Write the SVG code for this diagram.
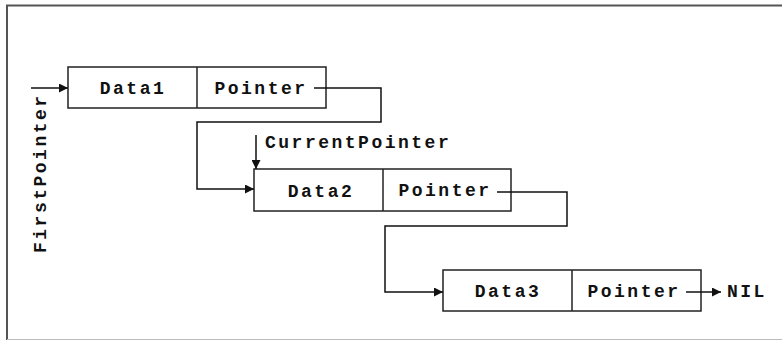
<svg xmlns="http://www.w3.org/2000/svg" width="782" height="340" viewBox="0 0 782 340">
<style>
.box{fill:#fff;stroke:#222;stroke-width:1.5}
.lbl{font-family:"Liberation Mono","Courier New",monospace;font-weight:bold;font-size:18px;letter-spacing:2.5px;fill:#111}
.c{text-anchor:middle}
.wire{fill:none;stroke:#111;stroke-width:1.5}
</style>
<defs>
<marker id="ah" viewBox="0 0 10 10" refX="10" refY="5" markerWidth="9" markerHeight="9" markerUnits="userSpaceOnUse" orient="auto">
<path d="M0,0 L10,5 L0,10 z" fill="#111"/>
</marker>
</defs>
<rect x="0" y="0" width="782" height="340" fill="#fff"/>
<g id="frame">
<line x1="6" y1="5.5" x2="782" y2="5.5" stroke="#555" stroke-width="2"/>
<line x1="7" y1="5" x2="7" y2="340" stroke="#555" stroke-width="2"/>
<line x1="7" y1="339.5" x2="782" y2="339.5" stroke="#bbb" stroke-width="1"/>
</g>
<g id="node1">
<rect class="box" x="68" y="67" width="258" height="41"/>
<line class="box" x1="197" y1="67" x2="197" y2="108"/>
<text class="lbl c" x="133" y="94">Data1</text>
<text class="lbl c" x="261" y="94">Pointer</text>
</g>
<g id="node2">
<rect class="box" x="254" y="169" width="257" height="42"/>
<line class="box" x1="383" y1="169" x2="383" y2="211"/>
<text class="lbl c" x="321" y="197">Data2</text>
<text class="lbl c" x="445" y="196">Pointer</text>
</g>
<g id="node3">
<rect class="box" x="443" y="270" width="258" height="41"/>
<line class="box" x1="572" y1="270" x2="572" y2="311"/>
<text class="lbl c" x="508" y="297">Data3</text>
<text class="lbl c" x="634" y="297">Pointer</text>
</g>
<g id="labels">
<text class="lbl" x="265" y="148">CurrentPointer</text>
<text class="lbl" x="727" y="297">NIL</text>
<text class="lbl" transform="translate(46,253) rotate(-90)">FirstPointer</text>
</g>
<g id="connectors">
<line class="wire" x1="31" y1="88" x2="68" y2="88" marker-end="url(#ah)"/>
<polyline class="wire" points="314,88 381,88 381,122 197,122 197,189 254,189" marker-end="url(#ah)"/>
<line class="wire" x1="256" y1="135" x2="256" y2="169" marker-end="url(#ah)"/>
<polyline class="wire" points="497,192 567,192 567,226 385,226 385,292 443,292" marker-end="url(#ah)"/>
<line class="wire" x1="686" y1="292" x2="721" y2="292" marker-end="url(#ah)"/>
</g>
</svg>
